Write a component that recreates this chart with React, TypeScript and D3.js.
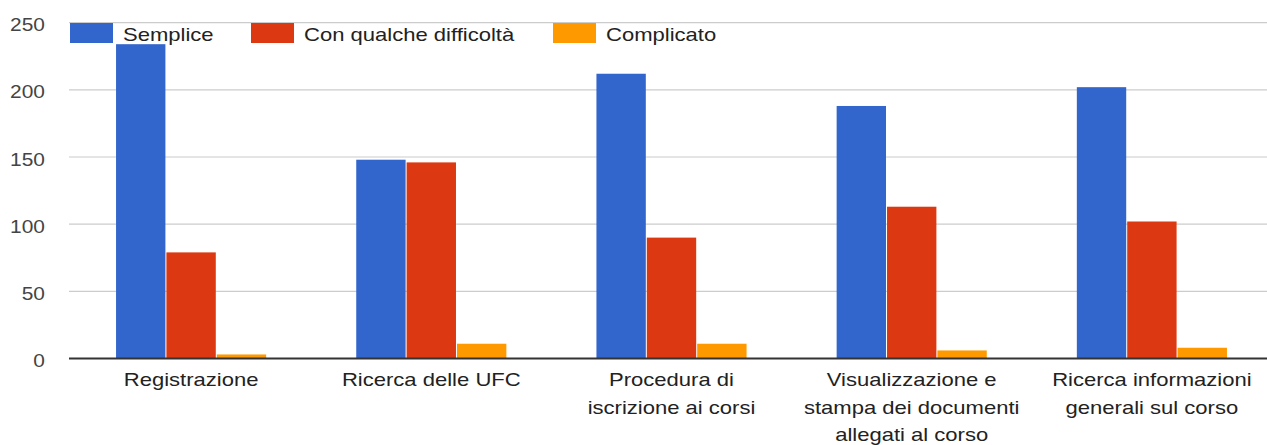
import React from "react";
import * as d3 from "d3";

const categories = [
  ["Registrazione"],
  ["Ricerca delle UFC"],
  ["Procedura di", "iscrizione ai corsi"],
  ["Visualizzazione e", "stampa dei documenti", "allegati al corso"],
  ["Ricerca informazioni", "generali sul corso"],
];
const seriesNames = ["Semplice", "Con qualche difficoltà", "Complicato"];
const semplice = [234, 148, 212, 188, 202];
const conQualche = [79, 146, 90, 113, 102];
const complicato = [3, 11, 11, 6, 8];
const seriesValues = [semplice, conQualche, complicato];
const colors = ["#3366cc", "#dc3912", "#ff9900"];
const yTicks = [0, 50, 100, 150, 200, 250];

const W = 1267;
const H = 445;
const FONT = "Arial, 'Liberation Sans', sans-serif";
const FS = 19;
const SX = 1.16;

export default function App() {
  const y = d3.scaleLinear().domain([0, 250]).range([358.5, 22.7]);
  const keys = categories.map((c) => c.join(" "));
  const x0 = d3
    .scaleBand<string>()
    .domain(keys)
    .range([71, 1272])
    .paddingInner(0.375)
    .paddingOuter(0.1875);
  const x1 = d3
    .scaleBand<number>()
    .domain([0, 1, 2])
    .range([0, x0.bandwidth()])
    .paddingInner(0.02);

  const legendX = [70, 251, 553];

  return (
    <svg
      width={W}
      height={H}
      style={{ position: "absolute", left: 0, top: 0, background: "#fff" }}
      fontFamily={FONT}
    >
      <rect width={W} height={H} fill="#fff" />
      {yTicks.map((t) => (
        <g key={t}>
          {t !== 0 && (
            <line x1={69} x2={1267} y1={y(t)} y2={y(t)} stroke="#cccccc" strokeWidth={1.2} />
          )}
          <text
            transform={`translate(45,${y(t) + 8.5}) scale(1.1,1)`}
            textAnchor="end"
            fontSize={FS}
            fill="#444444"
          >
            {t}
          </text>
        </g>
      ))}
      {keys.map((k, ci) =>
        seriesValues.map((vals, si) => (
          <rect
            key={k + si}
            x={(x0(k) as number) + (x1(si) as number)}
            y={y(vals[ci])}
            width={x1.bandwidth()}
            height={y(0) - y(vals[ci])}
            fill={colors[si]}
          />
        ))
      )}
      <line x1={69} x2={1267} y1={y(0)} y2={y(0)} stroke="#333333" strokeWidth={2.2} />
      {categories.map((lines, ci) => {
        const cx = (x0(keys[ci]) as number) + x0.bandwidth() / 2;
        return lines.map((l, li) => (
          <text
            key={ci + "-" + li}
            transform={`translate(${cx},${386 + li * 27.5}) scale(${SX},1)`}
            textAnchor="middle"
            fontSize={FS}
            fill="#222222"
          >
            {l}
          </text>
        ));
      })}
      {seriesNames.map((n, i) => (
        <g key={n}>
          <rect x={legendX[i]} y={23} width={43} height={20} fill={colors[i]} />
          <text
            transform={`translate(${legendX[i] + 53},40.5) scale(${SX},1)`}
            fontSize={FS}
            fill="#222222"
          >
            {n}
          </text>
        </g>
      ))}
    </svg>
  );
}
